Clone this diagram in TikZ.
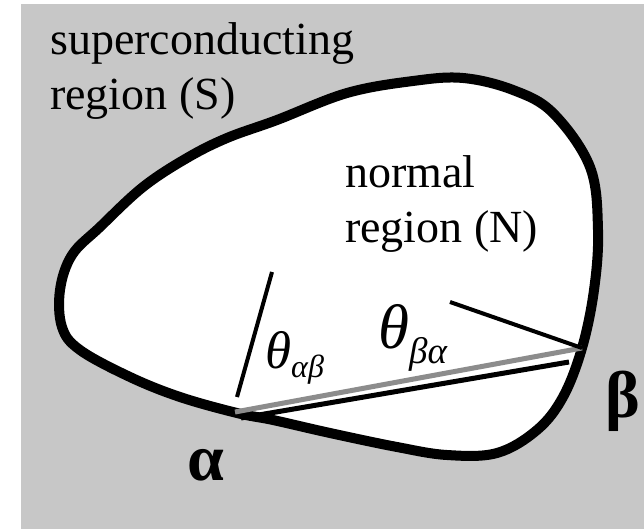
\documentclass[tikz,border=0pt]{standalone}
\usepackage{fontspec}
\setmainfont{Liberation Serif}
\begin{document}
\begin{tikzpicture}[x=1pt,y=-1pt,
  every node/.style={inner sep=0pt,anchor=base west},
  rim/.style={line width=10pt,line join=round},
  chord/.style={line width=5pt},
  tangent/.style={line width=4pt}]
% grey S region with the white N region inside the thick rim
\useasboundingbox (0,0) rectangle (644,529);
\fill[black!22] (21,4) rectangle (644,529);
\draw[rim,fill=white] plot[smooth cycle,tension=0.6] coordinates {
  (60,290) (72,255) (100,227) (143,187) (187,158) (227,138) (277,120)
  (347,93) (413,81) (463,78) (513,90) (553,113) (590,167) (598,230)
  (594,290) (582,348) (563,397) (537,430) (497,453) (447,455) (397,447)
  (330,433) (273,420) (237,413) (180,397) (130,377) (80,350) (62,327)};
% contact points alpha, beta and the tangent ends
\coordinate (ptAlpha) at (235,412);
\coordinate (ptBeta) at (582,348);
\coordinate (ptAlphaLow) at (241,418);
\coordinate (ptBetaLow) at (569,362);
\coordinate (tanAlphaFoot) at (237,397);
\coordinate (tanAlphaTop) at (272,272);
\coordinate (tanBetaEnd) at (450,302);
\draw[chord,black!45] (ptAlpha) -- (ptBeta);
\draw[chord] (ptAlphaLow) -- (ptBetaLow);
\draw[tangent] (tanAlphaFoot) -- (tanAlphaTop);
\draw[tangent] (ptBeta) -- (tanBetaEnd);
% region labels
\node[font=\fontsize{46}{55}\selectfont] (scLineA) at (50,55) {superconducting};
\node[font=\fontsize{46}{55}\selectfont] (scLineB) at (50,110) {region (S)};
\node[font=\fontsize{46}{55}\selectfont] (nLineA) at (345,188) {normal};
\node[font=\fontsize{46}{55}\selectfont] (nLineB) at (345,242) {region (N)};
% angle labels
\node (angAB) at (265,368) {{\fontsize{53}{53}\selectfont\itshape θ}{\fontsize{32}{32}\selectfont\itshape\raisebox{-9pt}{αβ}}};
\node (angBA) at (378,348) {{\fontsize{63}{63}\selectfont\itshape θ}{\fontsize{37}{37}\selectfont\itshape\raisebox{-15pt}{βα}}};
\node[font=\fontsize{66}{66}\selectfont\bfseries] (lblAlpha) at (187,480) {α};
\node[font=\fontsize{66}{66}\selectfont\bfseries] (lblBeta) at (605,417) {β};
\end{tikzpicture}
\end{document}
